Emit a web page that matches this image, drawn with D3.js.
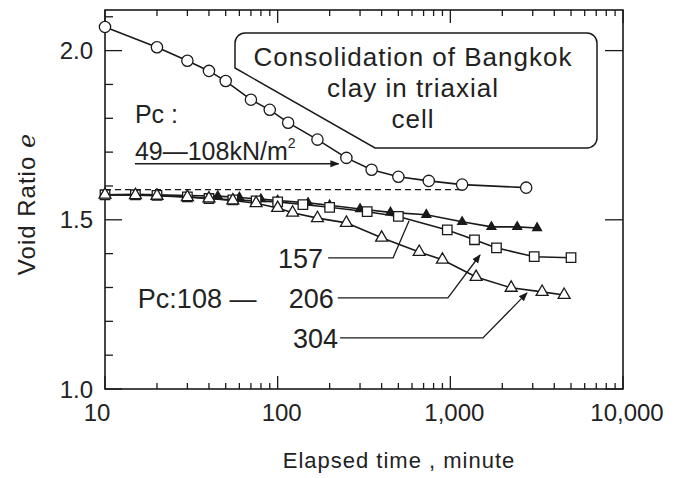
<!DOCTYPE html>
<meta charset="utf-8">
<style>
  body { margin: 0; background: #fff; }
  svg text { font-family: "Liberation Sans", Arial, sans-serif; fill: #222; }
</style>
<svg width="677" height="478"></svg>
<script src="https://d3js.org/d3.v7.min.js"></script>
<script>

// Pc: 49-108 kN/m2 (circles)
var timeA = [10, 20, 30, 40, 50, 70, 90, 115, 170, 250, 350, 500, 750, 1170, 2750];
var voidA = [2.07, 2.01, 1.97, 1.94, 1.91, 1.855, 1.825, 1.787, 1.737, 1.683, 1.648, 1.627, 1.615, 1.604, 1.595];

// Pc: 108-157 (small solid triangles)
var time157 = [10, 15, 20, 30, 45, 60, 80, 100, 150, 200, 300, 450, 726, 1170, 1730, 2440, 3180];
var void157 = [1.574, 1.575, 1.574, 1.572, 1.570, 1.566, 1.561, 1.557, 1.550, 1.543, 1.532, 1.522, 1.515, 1.494, 1.479, 1.479, 1.476];

// Pc: 108-206 (squares)
var time206 = [10, 15, 20, 30, 40, 55, 75, 100, 140, 200, 330, 500, 960, 1380, 1850, 3060, 5000];
var void206 = [1.574, 1.574, 1.572, 1.568, 1.563, 1.559, 1.556, 1.553, 1.545, 1.537, 1.524, 1.51, 1.470, 1.441, 1.417, 1.391, 1.388];

// Pc: 108-304 (open triangles)
var time304 = [10, 15, 20, 30, 40, 55, 75, 100, 122, 170, 250, 400, 660, 900, 1410, 2250, 3400, 4560];
var void304 = [1.574, 1.573, 1.571, 1.567, 1.563, 1.557, 1.549, 1.535, 1.521, 1.505, 1.491, 1.447, 1.405, 1.382, 1.331, 1.299, 1.287, 1.278];

var startRef = 1.589;   // dashed line at the start of the lower curves

var xTickValues = [10, 100, 1000, 10000];
var xTickLabels = ["10", "100", "1,000", "10,000"];
var yTickValues = [1.0, 1.5, 2.0];
var yTickLabels = ["1.0", "1.5", "2.0"];
var titleLines = ["Consolidation of Bangkok", "clay in triaxial", "cell"];

var svg = d3.select("svg");

var x = d3.scaleLog().domain([10, 10000]).range([105, 623]);
var y = d3.scaleLinear().domain([1.0, 2.12]).range([389, 10]);

var x0 = x.range()[0], x1 = x.range()[1],
    yb = y.range()[0], yt = y.range()[1];

svg.append("defs").append("marker")
    .attr("id", "arrow")
    .attr("viewBox", "0 0 10 10")
    .attr("refX", 9).attr("refY", 5)
    .attr("markerWidth", 9).attr("markerHeight", 9)
    .attr("markerUnits", "userSpaceOnUse")
    .attr("orient", "auto")
  .append("path")
    .attr("d", "M0,1L10,5L0,9z")
    .attr("fill", "#1a1a1a");

// frame
svg.append("rect")
    .attr("x", x0).attr("y", yt)
    .attr("width", x1 - x0).attr("height", yb - yt)
    .attr("fill", "none")
    .attr("stroke", "#1a1a1a")
    .attr("stroke-width", 1.6);

// log ticks bottom and top
var xt = x.ticks();
var isDecade = function(v) { return Math.abs(Math.log10(v) - Math.round(Math.log10(v))) < 1e-9; };

svg.append("g").selectAll("line")
  .data(xt)
  .enter().append("line")
    .attr("x1", x).attr("x2", x)
    .attr("y1", yb).attr("y2", function(d) { return yb - (isDecade(d) ? 13 : 6); })
    .attr("stroke", "#1a1a1a").attr("stroke-width", 1.3);

svg.append("g").selectAll("line")
  .data(xt)
  .enter().append("line")
    .attr("x1", x).attr("x2", x)
    .attr("y1", yt).attr("y2", function(d) { return yt + (isDecade(d) ? 13 : 6); })
    .attr("stroke", "#1a1a1a").attr("stroke-width", 1.3);

// void ratio ticks, every 0.1
var yt01 = d3.range(10, 22).map(function(i) { return i / 10; });

svg.append("g").selectAll("line")
  .data(yt01)
  .enter().append("line")
    .attr("x1", x0).attr("x2", function(d) { return x0 + (Math.round(d * 10) % 5 === 0 ? 17 : 8); })
    .attr("y1", y).attr("y2", y)
    .attr("stroke", "#1a1a1a").attr("stroke-width", 1.3);

svg.append("g").selectAll("line")
  .data(yTickValues)
  .enter().append("line")
    .attr("x1", x1).attr("x2", x1 - 18)
    .attr("y1", y).attr("y2", y)
    .attr("stroke", "#1a1a1a").attr("stroke-width", 1.3);

// tick labels
svg.append("g").selectAll("text")
  .data(xTickValues)
  .enter().append("text")
    .attr("x", function(d, i) { return x(d) + (i === 0 ? -8 : 4); })
    .attr("y", 421)
    .attr("text-anchor", "middle")
    .attr("font-size", 24)
    .text(function(d, i) { return xTickLabels[i]; });

svg.append("g").selectAll("text")
  .data(yTickValues)
  .enter().append("text")
    .attr("x", 93)
    .attr("y", y)
    .attr("dy", "0.36em")
    .attr("text-anchor", "end")
    .attr("font-size", 24)
    .text(function(d, i) { return yTickLabels[i]; });

// axis titles
svg.append("text")
    .attr("x", 399).attr("y", 468)
    .attr("text-anchor", "middle")
    .attr("font-size", 22)
    .attr("letter-spacing", 1)
    .text("Elapsed time , minute");

var ylab = svg.append("text")
    .attr("transform", "translate(35,204)rotate(-90)")
    .attr("text-anchor", "middle")
    .attr("font-size", 24)
    .attr("letter-spacing", 1);
ylab.append("tspan").text("Void Ratio ");
ylab.append("tspan").attr("font-family", "DejaVu Serif, serif").attr("font-style", "italic").text("e");

// title box
var box = d3.path();
box.moveTo(245, 33);
box.lineTo(587, 33);
box.arcTo(597, 33, 597, 43, 10);
box.lineTo(597, 138);
box.arcTo(597, 148, 587, 148, 10);
box.lineTo(375, 148);
box.lineTo(235, 68);
box.lineTo(235, 43);
box.arcTo(235, 33, 245, 33, 10);
svg.append("path")
    .attr("d", box.toString())
    .attr("fill", "#fff")
    .attr("stroke", "#1a1a1a")
    .attr("stroke-width", 1.5);

svg.append("g").selectAll("text")
  .data(titleLines)
  .enter().append("text")
    .attr("x", 413)
    .attr("y", function(d, i) { return 66 + i * 31; })
    .attr("text-anchor", "middle")
    .attr("font-size", 26)
    .attr("letter-spacing", 1)
    .text(function(d) { return d; });

// dashed start line
svg.append("line")
    .attr("x1", x(10)).attr("x2", x(1150))
    .attr("y1", y(startRef)).attr("y2", y(startRef))
    .attr("stroke", "#1a1a1a")
    .attr("stroke-width", 1.2)
    .attr("stroke-dasharray", "6,4");

var line = d3.line().x(function(d) { return x(d[0]); }).y(function(d) { return y(d[1]); });

var series = [
  {t: timeA, e: voidA, sym: "circle"},
  {t: time157, e: void157, sym: "solid"},
  {t: time206, e: void206, sym: "square"},
  {t: time304, e: void304, sym: "triangle"}
];

series.forEach(function(s) {
  var pts = d3.zip(s.t, s.e);

  svg.append("path")
      .datum(pts)
      .attr("d", line)
      .attr("fill", "none")
      .attr("stroke", "#1a1a1a")
      .attr("stroke-width", 1.6);

  var sym;
  if (s.sym === "circle") sym = d3.symbol().type(d3.symbolCircle).size(100);
  else if (s.sym === "square") sym = d3.symbol().type(d3.symbolSquare).size(90);
  else if (s.sym === "triangle") sym = d3.symbol().type(d3.symbolTriangle).size(62);
  else sym = d3.symbol().type(d3.symbolTriangle).size(34);

  svg.append("g").selectAll("path")
    .data(pts)
    .enter().append("path")
      .attr("transform", function(d) { return "translate(" + x(d[0]) + "," + y(d[1]) + ")"; })
      .attr("d", sym)
      .attr("fill", s.sym === "solid" ? "#1a1a1a" : "#fff")
      .attr("stroke", "#1a1a1a")
      .attr("stroke-width", 1.3);
});

// annotations, in data units
function pt(t, e) { return [x(t), y(e)]; }

var pcTop = svg.append("g").attr("font-size", 25);
pcTop.append("text")
    .attr("x", x(14.9)).attr("y", y(1.787))
    .text("Pc :");
var pcLine = pcTop.append("text")
    .attr("x", x(14.9)).attr("y", y(1.6775));
pcLine.append("tspan").text("49\u2014108kN/m");
pcLine.append("tspan").attr("font-size", 14).attr("dy", -12).text("2");

svg.append("line")
    .attr("x1", x(14.9)).attr("y1", y(1.6657))
    .attr("x2", x(225)).attr("y2", y(1.6657))
    .attr("stroke", "#1a1a1a").attr("stroke-width", 1.3)
    .attr("marker-end", "url(#arrow)");

var labels = svg.append("g").attr("font-size", 27);
labels.append("text")
    .attr("x", x(183)).attr("y", y(1.3876)).attr("dy", "0.36em")
    .attr("text-anchor", "end").text("157");
labels.append("text")
    .attr("x", x(15.5)).attr("y", y(1.269)).attr("dy", "0.36em")
    .text("Pc:108 \u2014");
labels.append("text")
    .attr("x", x(223) - 4).attr("y", y(1.269)).attr("dy", "0.36em")
    .attr("text-anchor", "end").text("206");
labels.append("text")
    .attr("x", x(230) - 2).attr("y", y(1.151)).attr("dy", "0.36em")
    .attr("text-anchor", "end").text("304");

var leaders = [
  {p: [pt(196, 1.3876), pt(466, 1.3876), pt(577, 1.497)], arrow: false},
  {p: [pt(223, 1.269), pt(968, 1.269), pt(1486, 1.396)], arrow: true},
  {p: [pt(230, 1.151), pt(1545, 1.151), pt(2780, 1.284)], arrow: true}
];

svg.append("g").selectAll("path")
  .data(leaders)
  .enter().append("path")
    .attr("d", function(d) { return d3.line()(d.p); })
    .attr("fill", "none")
    .attr("stroke", "#1a1a1a")
    .attr("stroke-width", 1.3)
    .attr("marker-end", function(d) { return d.arrow ? "url(#arrow)" : null; });

</script>
